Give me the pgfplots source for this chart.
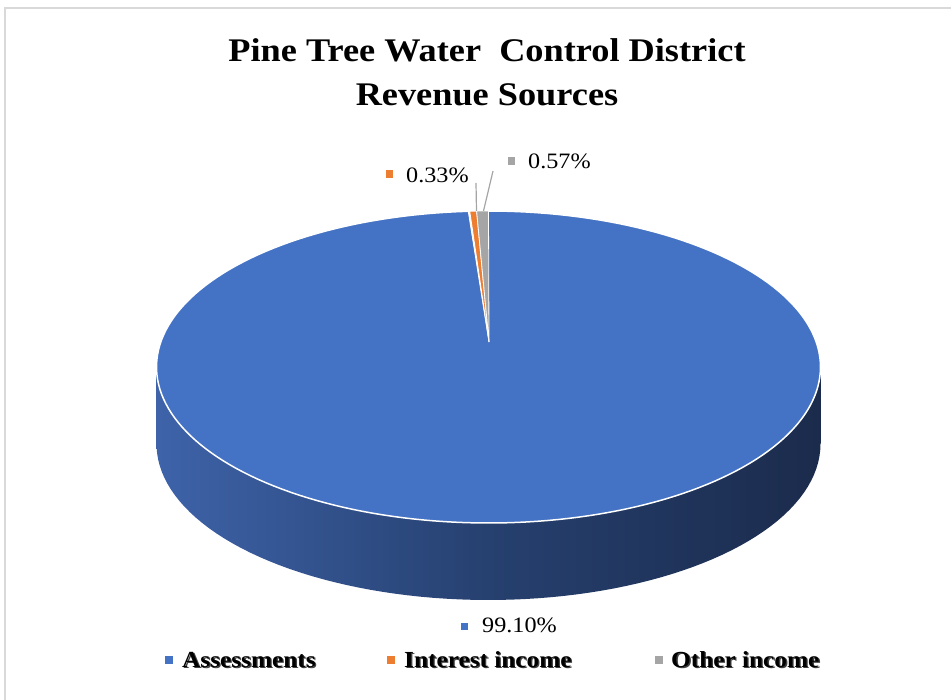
\documentclass[border=0pt]{standalone}
\usepackage{fontspec}
\setmainfont{Liberation Serif}[FakeStretch=1.1]
\usepackage{pgfplots}
\pgfplotsset{compat=1.18}
\usepackage{pgfplotstable}
\definecolor{cA}{HTML}{4472C4}
\definecolor{cI}{HTML}{ED7D31}
\definecolor{cO}{HTML}{A5A5A5}
\definecolor{sideL}{HTML}{3E63A9}
\definecolor{sideM}{HTML}{26406F}
\definecolor{sideR}{HTML}{1B2B4C}
\definecolor{frame}{HTML}{D9D9D9}
\pgfplotstableread{
name value
Assessments 99.10
Interest 0.33
Other 0.57
}\pietable
\newcommand\legtext[3]{%
  \node[anchor=base west, inner sep=0, text=black!75, font=\bfseries\fontsize{23}{27}\selectfont] at (axis cs:#1+1.3,#2+1.3) {#3};%
  \node[anchor=base west, inner sep=0, text=black, font=\bfseries\fontsize{23}{27}\selectfont] at (axis cs:#1,#2) {#3};}
\pgfplotstablegetelem{0}{value}\of\pietable \let\vA\pgfplotsretval
\pgfplotstablegetelem{1}{value}\of\pietable \let\vI\pgfplotsretval
\pgfplotstablegetelem{2}{value}\of\pietable \let\vO\pgfplotsretval
\pgfmathsetmacro{\tA}{-90+3.6*\vA}
\pgfmathsetmacro{\tI}{\tA+3.6*\vI}
\pgfmathsetmacro{\tO}{\tI+3.6*\vO}
\pgfmathsetmacro{\xA}{488.5+332*cos(\tA)}\pgfmathsetmacro{\yA}{367+156*sin(\tA)}
\pgfmathsetmacro{\xI}{488.5+332*cos(\tI)}\pgfmathsetmacro{\yI}{367+156*sin(\tI)}
\pgfmathsetmacro{\xO}{488.5+332*cos(\tO)}\pgfmathsetmacro{\yO}{367+156*sin(\tO)}
\pgfmathsetmacro{\xAl}{\xA-1.5}\pgfmathsetmacro{\xAr}{\xA+0.5}
\begin{document}%
\begin{tikzpicture}
\begin{axis}[
  width=951pt, height=700pt, scale only axis,
  xmin=0, xmax=951, ymin=0, ymax=700, y dir=reverse,
  hide axis, clip=false, enlargelimits=false]
\coordinate (SW) at (axis cs:0,700);
\coordinate (NE) at (axis cs:951,0);
% frame
\addplot[frame, line width=1.2pt] coordinates {(5,700) (5,8) (951,8)};
% side of the pie
\addplot[draw=none, left color=sideL, right color=sideR, middle color=sideM, domain=0:360, samples=160]
  ({488.5+332*cos(x)},{444+156*sin(x)}) -- cycle;
\addplot[draw=none, left color=sideL, right color=sideR, middle color=sideM]
  coordinates {(156.5,367) (820.5,367) (820.5,444) (156.5,444)} -- cycle;
% top face (Assessments)
\addplot[fill=cA, draw=white, line width=1.5pt, domain=0:360, samples=200]
  ({488.5+332*cos(x)},{367+156*sin(x)}) -- cycle;
% small slices
\addplot[fill=white, draw=white, line width=0.8pt] coordinates {(489,342) (\xAl,\yA) (\xAr,\yA)} -- cycle;
\addplot[fill=cI, draw=white, line width=0.8pt] coordinates {(489,342) (\xA,\yA) (\xI,\yI)} -- cycle;
\addplot[fill=cO, draw=white, line width=0.8pt] coordinates {(489,342) (\xI,\yI) (\xO,\yO)} -- cycle;
% leader lines
\addplot[cO, line width=1.2pt] coordinates {(476.5,211) (476,183)};
\addplot[cO, line width=1.2pt] coordinates {(483.5,211) (493,171)};
% label markers
\addplot[only marks, mark=square*, mark size=3.3pt, cI, mark options={draw=none}] coordinates {(389,174)};
\addplot[only marks, mark=square*, mark size=3.3pt, cO, mark options={draw=none}] coordinates {(511,161)};
\addplot[only marks, mark=square*, mark size=3.3pt, cA, mark options={draw=none}] coordinates {(464,626)};
\node[anchor=base west, inner sep=0, font=\fontsize{22}{26}\selectfont] at (axis cs:406,183) {0.33\%};
\node[anchor=base west, inner sep=0, font=\fontsize{22}{26}\selectfont] at (axis cs:528,169) {0.57\%};
\node[anchor=base west, inner sep=0, font=\fontsize{22}{26}\selectfont] at (axis cs:482,632) {99.10\%};
% title
\node[anchor=base, inner sep=0, font=\bfseries\fontsize{33}{40}\selectfont] at (axis cs:487,62) {Pine Tree Water \ Control District};
\node[anchor=base, inner sep=0, font=\bfseries\fontsize{33}{40}\selectfont] at (axis cs:487,106) {Revenue Sources};
% legend
\addplot[only marks, mark=square*, mark size=3.5pt, cA, mark options={draw=none}] coordinates {(169,660)};
\addplot[only marks, mark=square*, mark size=3.5pt, cI, mark options={draw=none}] coordinates {(391,660)};
\addplot[only marks, mark=square*, mark size=3.5pt, cO, mark options={draw=none}] coordinates {(659,660)};
\legtext{182}{667}{Assessments}
\legtext{404}{667}{Interest income}
\legtext{671}{667}{Other income}
\end{axis}
\pgfresetboundingbox
\useasboundingbox (SW) rectangle (NE);
\end{tikzpicture}%
\end{document}
